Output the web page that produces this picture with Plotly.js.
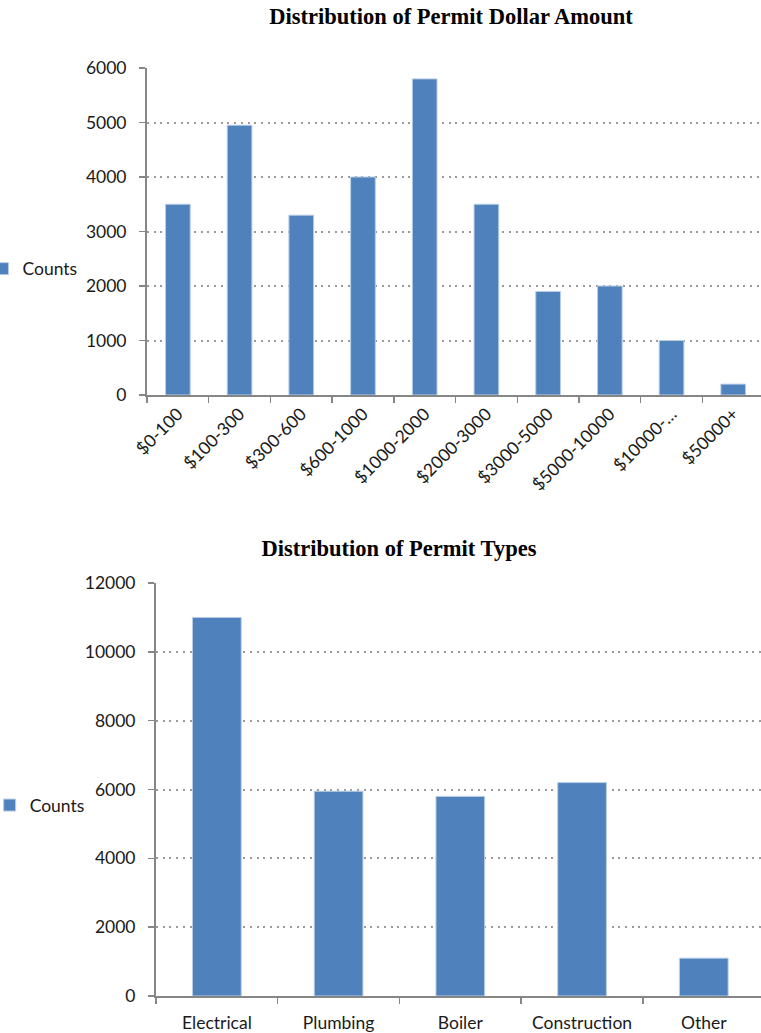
<!DOCTYPE html>
<html>
<head>
<meta charset="utf-8">
<script src="https://cdn.plot.ly/plotly-3.0.1.min.js"></script>
<style>
  html, body { margin: 0; padding: 0; background: #fff; }
  #amount { position: absolute; left: 0; top: 0; width: 761px; height: 520px; }
  #types  { position: absolute; left: 0; top: 520px; width: 761px; height: 513px; }
</style>
</head>
<body>
<div id="amount"></div>
<div id="types"></div>
<script>
// Permit counts by dollar amount bracket
const amountBrackets = ["$0-100", "$100-300", "$300-600", "$600-1000", "$1000-2000",
                        "$2000-3000", "$3000-5000", "$5000-10000", "$10000-…", "$50000+"];
const amountCounts = [3500, 4950, 3300, 4000, 5800, 3500, 1900, 2000, 1000, 200];

// Permit counts by permit type
const permitTypes = ["Electrical", "Plumbing", "Boiler", "Construction", "Other"];
const typeCounts = [11000, 5950, 5800, 6200, 1100];

const seriesName = "Counts";

const barColor = "#4F81BD";
const axisColor = "#868686";
const textColor = "#1a1a1a";
const fontFamily = "Lato, 'Open Sans', sans-serif";
const titleFamily = "'Liberation Serif', 'Times New Roman', serif";

function tickFont() { return { family: fontFamily, size: 17.5, color: textColor }; }
function titleFont() { return { family: titleFamily, size: 22.5, color: "#000" }; }

function barTrace(x, y) {
  return {
    type: "bar", x: x, y: y, name: seriesName, showlegend: true,
    marker: { color: barColor, line: { color: "#B9CDE5", width: 1 } },
    hoverinfo: "x+y"
  };
}

function yAxis(max, step) {
  return {
    range: [0, max], dtick: step, tick0: 0, tickformat: "d",
    showline: true, linecolor: axisColor, linewidth: 2,
    ticks: "outside", ticklen: 6, tickwidth: 1.5, tickcolor: axisColor,
    showgrid: true, gridcolor: "#9a9a9a", gridwidth: 2, griddash: "2px,4.7px",
    zeroline: false, tickfont: tickFont(), ticklabelstandoff: 9, fixedrange: true
  };
}

function xAxis(visible, angle, standoff) {
  return {
    type: "category", range: [-0.5, visible],
    showline: true, linecolor: axisColor, linewidth: 2,
    ticks: "outside", ticklen: 6, tickwidth: 1.5, tickcolor: axisColor,
    tickson: "boundaries", showgrid: false, zeroline: false,
    tickangle: angle, tickfont: tickFont(), ticklabelstandoff: standoff, fixedrange: true
  };
}

const config = { displayModeBar: false, staticPlot: true };

Plotly.newPlot("amount", [barTrace(amountBrackets, amountCounts)], {
  width: 761, height: 520,
  margin: { l: 147, r: 0, t: 68, b: 125, autoexpand: false },
  paper_bgcolor: "#fff", plot_bgcolor: "#fff",
  bargap: 0.6,
  title: { text: "<b>Distribution of Permit Dollar Amount</b>", font: titleFont(),
           x: 451 / 761, xref: "container", xanchor: "center",
           y: 1 - 16 / 520, yref: "container", yanchor: "middle" },
  xaxis: xAxis(9.45, -45, 0),
  yaxis: yAxis(6000, 1000),
  legend: { x: -0.268, xanchor: "left", y: 0.386, yanchor: "middle", itemwidth: 30,
            font: tickFont(), bgcolor: "rgba(0,0,0,0)", borderwidth: 0 }
}, config);

Plotly.newPlot("types", [barTrace(permitTypes, typeCounts)], {
  width: 761, height: 513,
  margin: { l: 156, r: 0, t: 63, b: 37, autoexpand: false },
  paper_bgcolor: "#fff", plot_bgcolor: "#fff",
  bargap: 0.6,
  title: { text: "<b>Distribution of Permit Types</b>", font: titleFont(),
           x: 399 / 761, xref: "container", xanchor: "center",
           y: 1 - 28 / 513, yref: "container", yanchor: "middle" },
  xaxis: xAxis(4.47, 0, 10),
  yaxis: yAxis(12000, 2000),
  legend: { x: -0.275, xanchor: "left", y: 0.462, yanchor: "middle", itemwidth: 30,
            font: tickFont(), bgcolor: "rgba(0,0,0,0)", borderwidth: 0 }
}, config);
</script>
</body>
</html>
